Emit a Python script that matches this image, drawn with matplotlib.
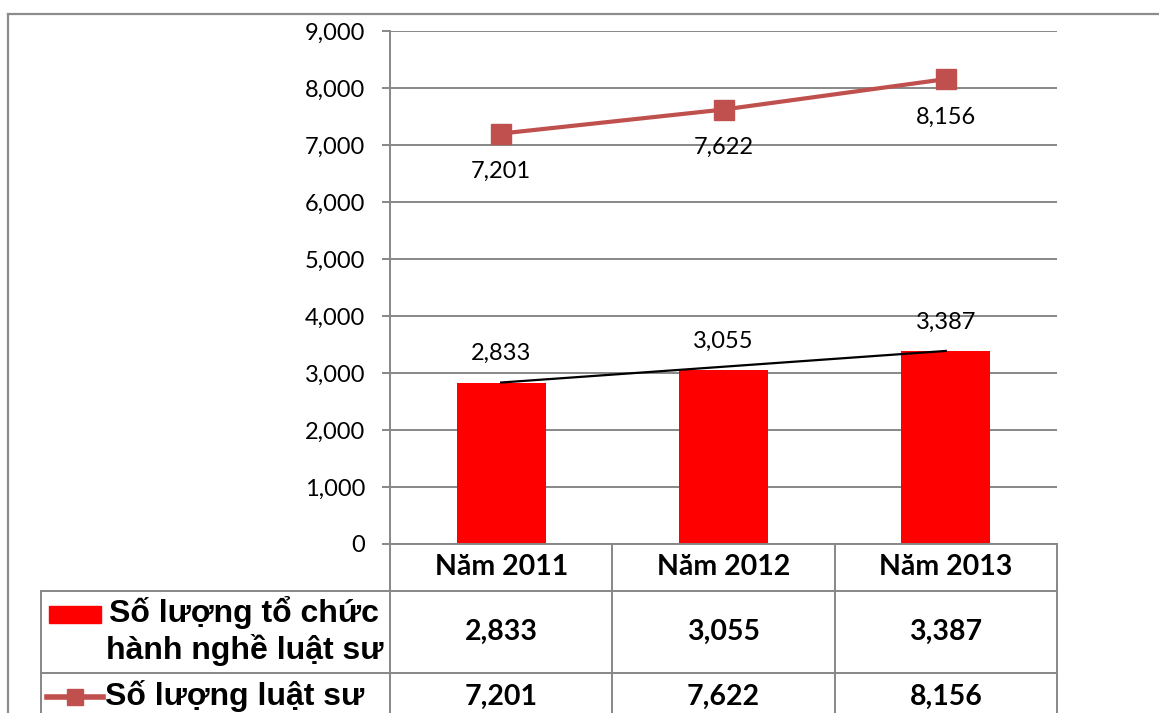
import numpy as np
import matplotlib
matplotlib.use("Agg")
import matplotlib.pyplot as plt
from matplotlib.lines import Line2D
from matplotlib.patches import Rectangle
import matplotlib.ticker as ticker

# ── data ─────────────────────────────────────────────────────────────
years = ["Năm 2011", "Năm 2012", "Năm 2013"]
to_chuc = [2833, 3055, 3387]        # Số lượng tổ chức hành nghề luật sư
luat_su = [7201, 7622, 8156]        # Số lượng luật sư
label_bar = ["Số lượng tổ chức", "hành nghề luật sư"]
label_line = "Số lượng luật sư"

W, H = 1159, 713
BAR_C = "#FF0000"
LINE_C = "#C0504D"
GRID_C = "#878787"

def fx(x):
    return x / W

def fy(y):
    return 1 - y / H

fig = plt.figure(figsize=(W / 100, H / 100), dpi=100)

# plot area in pixels
L, R, T, B = 390, 1057, 31, 544
ax = fig.add_axes([fx(L), fy(B), (R - L) / W, (B - T) / H])

x = np.arange(len(years))
ax.bar(x, to_chuc, width=0.4, color=BAR_C, zorder=2)
ax.plot(x, luat_su, "-s", color=LINE_C, lw=3, markersize=14, zorder=3)
# black connector from first to last bar
ax.plot([x[0], x[-1]], [to_chuc[0], to_chuc[-1]], color="black", lw=1.6, zorder=4)

for xi, v in zip(x, to_chuc):
    ax.annotate(f"{v:,}", (xi, v), xytext=(0, 29), textcoords="offset pixels",
                ha="center", va="center", fontsize=17, family="Lato")
for xi, v in zip(x, luat_su):
    ax.annotate(f"{v:,}", (xi, v), xytext=(0, -38), textcoords="offset pixels",
                ha="center", va="center", fontsize=17, family="Lato")

ax.set_xlim(-0.5, 2.5)
ax.set_ylim(0, 9000)
ax.set_yticks(np.arange(0, 9001, 1000))
ax.yaxis.set_major_formatter(ticker.FuncFormatter(lambda v, p: f"{int(v):,}"))
ax.set_xticks([])
ax.grid(axis="y", color=GRID_C, lw=1.4, zorder=0)
ax.set_axisbelow(True)
for s in ("top", "right"):
    ax.spines[s].set_visible(False)
for s in ("left", "bottom"):
    ax.spines[s].set_color(GRID_C)
    ax.spines[s].set_linewidth(1.4)
ax.tick_params(axis="y", length=6, width=1.4, color=GRID_C, pad=12)
for t in ax.get_yticklabels():
    t.set_fontsize(17)
    t.set_family("Lato")

# ── chart-area border (top and left) ─────────────────────────────────
border = dict(color="#8C8C8C", lw=1.6, transform=fig.transFigure)
fig.add_artist(Line2D([fx(8), 1], [fy(14), fy(14)], **border))
fig.add_artist(Line2D([fx(8), fx(8)], [fy(14), 0], **border))

# ── data table ───────────────────────────────────────────────────────
tab = dict(color=GRID_C, lw=1.4, transform=fig.transFigure)
cols = [L, L + (R - L) / 3, L + 2 * (R - L) / 3, R]
for cx in cols:
    fig.add_artist(Line2D([fx(cx), fx(cx)], [fy(B), 0], **tab))
fig.add_artist(Line2D([fx(41), fx(41)], [fy(591), 0], **tab))
for ry in (591, 673):
    fig.add_artist(Line2D([fx(41), fx(R)], [fy(ry), fy(ry)], **tab))

centers = [(cols[i] + cols[i + 1]) / 2 for i in range(3)]
cell_font = dict(ha="center", va="center", fontsize=20.5, fontweight="bold", family="Lato")
for cx, yr, a, b in zip(centers, years, to_chuc, luat_su):
    fig.text(fx(cx), fy(567), yr, **cell_font)
    fig.text(fx(cx), fy(632), f"{a:,}", **cell_font)
    fig.text(fx(cx), fy(697), f"{b:,}", **cell_font)

# legend keys
fig.add_artist(Rectangle((fx(49), fy(623)), (101 - 49) / W, (623 - 606) / H,
                         color=BAR_C, transform=fig.transFigure))
fig.add_artist(Line2D([fx(47), fx(103)], [fy(697), fy(697)], color=LINE_C, lw=4,
                      transform=fig.transFigure))
fig.add_artist(Line2D([fx(75)], [fy(697)], color=LINE_C, marker="s", markersize=12,
                      lw=0, transform=fig.transFigure))

leg_font = dict(fontsize=23, fontweight="bold", family="Liberation Sans",
                ha="center", va="center")
fig.text(fx(244), fy(613), label_bar[0], **leg_font)
fig.text(fx(245), fy(650), label_bar[1], **leg_font)
fig.text(fx(235), fy(696), label_line, **leg_font)

fig.savefig("out.png", dpi=100)
